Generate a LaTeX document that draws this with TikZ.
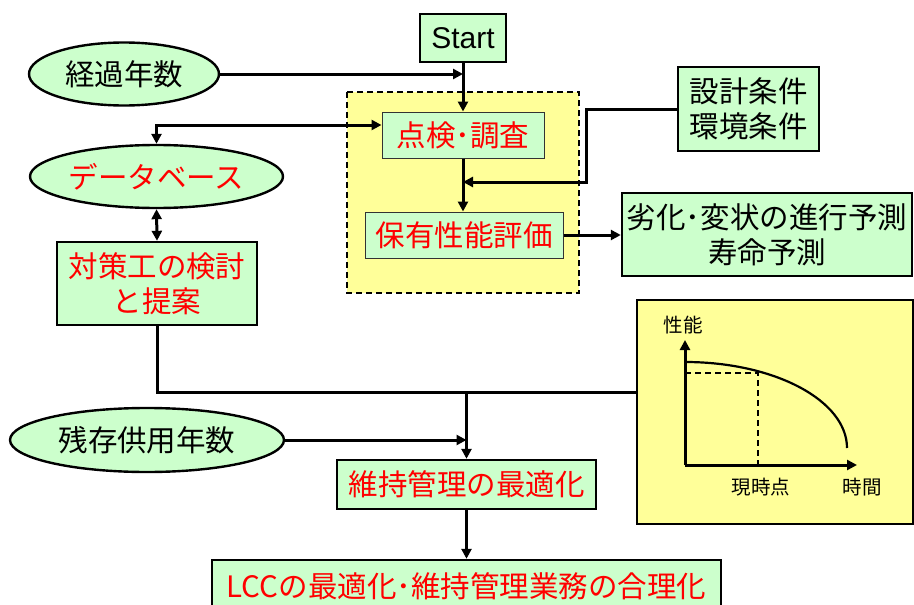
\documentclass[tikz,border=0pt]{standalone}
\usepackage{fontspec}
\setmainfont{Noto Sans CJK JP}
\newfontfamily\latinfont{Liberation Sans}
\usetikzlibrary{shapes.geometric,arrows.meta}
\definecolor{boxgreen}{HTML}{CCFFCC}
\definecolor{boxyellow}{HTML}{FFFF99}
\definecolor{txtred}{HTML}{FF0000}
\tikzset{
  mainbox/.style={draw=black,line width=2.4pt,fill=boxgreen,inner sep=0pt,align=center,font=\fontsize{29.5}{35}\selectfont},
  innerbox/.style={draw=black!80,line width=1pt,fill=boxgreen,inner sep=0pt,align=center,font=\fontsize{29.5}{35}\selectfont,text=txtred},
  oval/.style={ellipse,draw=black,line width=2.4pt,fill=boxgreen,inner sep=0pt,font=\fontsize{29.5}{35}\selectfont},
  conn/.style={line width=3pt,-{Triangle[length=10pt,width=10pt]}},
  biconn/.style={line width=3pt,{Triangle[length=10pt,width=10pt]}-{Triangle[length=10pt,width=10pt]}},
  plain/.style={line width=3pt},
  chartlbl/.style={inner sep=0pt,font=\fontsize{19.5}{22}\selectfont},
}
\begin{document}
\begin{tikzpicture}[x=1pt,y=1pt]
\useasboundingbox (0,0) rectangle (914,-605);
% dashed background area
\draw[fill=boxyellow,line width=2.4pt,dashed,dash pattern=on 6pt off 4pt] (347,-92) rectangle (579,-293);
% chart box
\node[draw=black,line width=1.2pt,fill=boxyellow,minimum width=276pt,minimum height=224pt,inner sep=0pt] (chart) at (775,-412) {};
% nodes
\node[mainbox,minimum width=86pt,minimum height=48pt,font=\latinfont\fontsize{30}{34}\selectfont] (start) at (463,-38) {Start};
\node[oval,minimum width=190pt,minimum height=63pt] (keika) at (124,-74) {経過年数};
\node[innerbox,minimum width=162pt,minimum height=46pt] (tenken) at (463,-135) {点検･調査};
\node[innerbox,minimum width=198pt,minimum height=46pt] (hoyu) at (464,-235) {保有性能評価};
\node[mainbox,minimum width=141pt,minimum height=84pt] (sekkei) at (748.5,-109) {設計条件\\環境条件};
\node[mainbox,minimum width=290pt,minimum height=83pt] (rekka) at (767,-234.5) {劣化･変状の進行予測\\寿命予測};
\node[oval,minimum width=253pt,minimum height=63pt,text=txtred] (db) at (156.5,-176.5) {データベース};
\node[mainbox,minimum width=200pt,minimum height=83pt,text=txtred] (taisaku) at (157,-283.5) {対策工の検討\\と提案};
\node[oval,minimum width=274pt,minimum height=64pt] (zanzon) at (147,-440) {残存供用年数};
\node[mainbox,minimum width=259pt,minimum height=49pt,text=txtred] (iji) at (466.5,-484.5) {維持管理の最適化};
\node[mainbox,minimum width=509pt,minimum height=52pt,text=txtred] (lcc) at (466.5,-586) {LCCの最適化･維持管理業務の合理化};
% connectors
\coordinate (j1) at (463,-182);
\coordinate (c1) at (637,-392);
\draw[conn] (start.south) -- (tenken.north);
\draw[conn] (keika.east) -- (keika.east -| start.south);
\draw[conn] (tenken.south) -- (tenken.south |- hoyu.north);
\draw[conn] (sekkei.west) -- ++(-90,0) |- (j1);
\draw[conn] (hoyu.east) -- (hoyu.east -| rekka.west);
\draw[biconn] ([yshift=10pt]tenken.west) -| (db.north);
\draw[biconn] (db.south) -- (taisaku.north);
\draw[plain] (taisaku.south) |- (c1);
\draw[conn] (iji.north |- c1) -- (iji.north);
\draw[conn] (zanzon.east) -- (zanzon.east -| iji.north);
\draw[conn] (iji.south) -- (lcc.north);
% chart contents
\coordinate (o) at (685,-465);
\coordinate (ytop) at (685,-340);
\coordinate (xend) at (857,-465);
\draw[line width=3pt,-{Triangle[length=10pt,width=10pt]}] (o) -- (ytop);
\draw[line width=3pt,-{Triangle[length=10pt,width=10pt]}] (o) -- (xend);
\draw[line width=2.2pt] (685,-362) arc[start angle=90,end angle=0,x radius=162pt,y radius=86pt];
\draw[line width=2.2pt,dashed,dash pattern=on 6pt off 4pt] (685,-373) -- (758,-373) -- (758,-465);
\node[chartlbl] (perf) at (683,-325) {性能};
\node[chartlbl] (now) at (761,-487) {現時点};
\node[chartlbl] (time) at (862,-487) {時間};
\end{tikzpicture}
\end{document}
